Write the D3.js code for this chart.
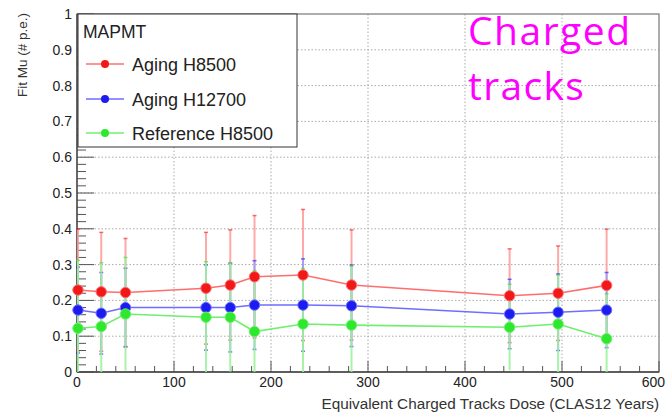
<!DOCTYPE html>
<html><head><meta charset="utf-8">
<script src="https://cdn.jsdelivr.net/npm/d3@7/dist/d3.min.js"></script>
<style>body{margin:0;background:#fff}svg{display:block}</style>
</head><body><svg id="c" width="666" height="414"></svg>
<script>
const dose = [1, 25, 50, 133, 158, 183, 233, 283, 446, 496, 546];
const agingH8500 = [0.229, 0.224, 0.222, 0.234, 0.243, 0.266, 0.271, 0.243, 0.213, 0.220, 0.242];
const agingH8500Err = [0.17, 0.166, 0.151, 0.156, 0.154, 0.171, 0.183, 0.154, 0.131, 0.132, 0.157];
const agingH12700 = [0.173, 0.164, 0.180, 0.180, 0.180, 0.187, 0.187, 0.185, 0.162, 0.167, 0.173];
const agingH12700Err = [0.12, 0.114, 0.110, 0.119, 0.124, 0.124, 0.129, 0.114, 0.097, 0.107, 0.105];
const refH8500 = [0.122, 0.127, 0.162, 0.153, 0.153, 0.113, 0.134, 0.131, 0.125, 0.134, 0.093];
const refH8500Err = [0.19, 0.178, 0.158, 0.155, 0.152, 0.17, 0.155, 0.165, 0.12, 0.137, 0.125];
const xTicks = [0, 100, 200, 300, 400, 500, 600];
const yTicks = [0, 0.1, 0.2, 0.3, 0.4, 0.5, 0.6, 0.7, 0.8, 0.9, 1];
const legendLabels = ["Aging H8500", "Aging H12700", "Reference H8500"];

const series = [
  {name: legendLabels[0], v: agingH8500, e: agingH8500Err, line: "#ff6e6e", err: "#ff9a9a", mk: "#f01818"},
  {name: legendLabels[1], v: agingH12700, e: agingH12700Err, line: "#6e6eff", err: "#9a9aff", mk: "#1c1cf0"},
  {name: legendLabels[2], v: refH8500, e: refH8500Err, line: "#6ef06e", err: "#9af29a", mk: "#2ee82e"}
];

const svg = d3.select("#c");
const L = 77, R = 659, T = 14, B = 372;
const x = d3.scaleLinear().domain([0, 600]).range([L, R]);
const y = d3.scaleLinear().domain([0, 1]).range([B, T]);
const font = "Liberation Sans, Arial, sans-serif";

// grid
const g = svg.append("g");
g.selectAll(".gx").data(xTicks.slice(1, -1)).join("line")
  .attr("x1", d => x(d)).attr("x2", d => x(d)).attr("y1", T).attr("y2", B)
  .attr("stroke", "#aaa").attr("stroke-width", 1).attr("stroke-dasharray", "1.5,2");
g.selectAll(".gy").data(yTicks.slice(1, -1)).join("line")
  .attr("y1", d => y(d)).attr("y2", d => y(d)).attr("x1", L).attr("x2", R)
  .attr("stroke", "#aaa").attr("stroke-width", 1).attr("stroke-dasharray", "1.5,2");

// frame
svg.append("rect").attr("x", L).attr("y", T).attr("width", R - L).attr("height", B - T)
  .attr("fill", "none").attr("stroke", "#777").attr("stroke-width", 1.2);

// ticks (inside, ROOT style)
const yMinor = d3.range(0, 1.0001, 0.02);
svg.append("g").selectAll("line").data(yMinor).join("line")
  .attr("x1", L).attr("x2", (d, i) => L + (i % 5 === 0 ? 17 : 9))
  .attr("y1", d => y(d)).attr("y2", d => y(d)).attr("stroke", "#555").attr("stroke-width", 1);
const xMinor = d3.range(0, 600.001, 20);
svg.append("g").selectAll("line").data(xMinor).join("line")
  .attr("y1", B).attr("y2", (d, i) => B - (i % 5 === 0 ? 11 : 6))
  .attr("x1", d => x(d)).attr("x2", d => x(d)).attr("stroke", "#555").attr("stroke-width", 1);

// axes lines
svg.append("line").attr("x1", L).attr("x2", L).attr("y1", T).attr("y2", B).attr("stroke", "#444").attr("stroke-width", 1.3);
svg.append("line").attr("x1", L).attr("x2", R).attr("y1", B).attr("y2", B).attr("stroke", "#444").attr("stroke-width", 1.3);

// tick labels
svg.append("g").selectAll("text").data(yTicks).join("text")
  .attr("x", L - 5).attr("y", d => y(d) + 5).attr("text-anchor", "end")
  .attr("font-family", font).attr("font-size", 14).attr("fill", "#222")
  .text(d => d === 0 ? "0" : d === 1 ? "1" : d3.format(".1f")(d));
svg.append("g").selectAll("text").data(xTicks).join("text")
  .attr("x", d => d === 600 ? 665 : x(d)).attr("y", 387)
  .attr("text-anchor", d => d === 600 ? "end" : "middle")
  .attr("font-family", font).attr("font-size", 14).attr("fill", "#222")
  .text(d => d);

// axis titles
svg.append("text").attr("x", R).attr("y", 409).attr("text-anchor", "end")
  .attr("font-family", font).attr("font-size", 15.3).attr("fill", "#333")
  .text("Equivalent Charged Tracks Dose (CLAS12 Years)");
svg.append("text").attr("transform", `translate(27,${T - 1}) rotate(-90)`).attr("text-anchor", "end")
  .attr("font-family", font).attr("font-size", 13.5).attr("fill", "#333")
  .text("Fit Mu (# p.e.)");

// data
const pg = svg.append("g");
series.forEach(s => {
  const gg = pg.append("g");
  gg.selectAll(".eb").data(dose).join("line")
    .attr("x1", d => x(d)).attr("x2", d => x(d))
    .attr("y1", (d, i) => y(Math.max(0, s.v[i] - s.e[i]))).attr("y2", (d, i) => y(s.v[i] + s.e[i]))
    .attr("stroke", s.err).attr("stroke-width", 2).attr("opacity", 0.85);
  gg.selectAll(".cu").data(dose).join("line")
    .attr("x1", d => x(d) - 2).attr("x2", d => x(d) + 2)
    .attr("y1", (d, i) => y(s.v[i] + s.e[i])).attr("y2", (d, i) => y(s.v[i] + s.e[i]))
    .attr("stroke", s.mk).attr("stroke-width", 1.5).attr("opacity", 0.6);
  gg.selectAll(".cl").data(dose).join("line").filter((d, i) => s.v[i] - s.e[i] > 0.01)
    .attr("x1", d => x(d) - 2).attr("x2", d => x(d) + 2)
    .attr("y1", (d, i) => y(s.v[i] - s.e[i])).attr("y2", (d, i) => y(s.v[i] - s.e[i]))
    .attr("stroke", s.mk).attr("stroke-width", 1.5).attr("opacity", 0.6);
});
series.forEach(s => {
  pg.append("path").datum(dose)
    .attr("d", d3.line().x(d => x(d)).y((d, i) => y(s.v[i])))
    .attr("fill", "none").attr("stroke", s.line).attr("stroke-width", 1.6);
});
series.forEach(s => {
  pg.append("g").selectAll("circle").data(dose).join("circle")
    .attr("cx", d => x(d)).attr("cy", (d, i) => y(s.v[i])).attr("r", 5.2)
    .attr("fill", s.mk).attr("stroke", s.line).attr("stroke-width", 1);
});

// legend
const lg = svg.append("g");
lg.append("rect").attr("x", 78).attr("y", 14).attr("width", 219).attr("height", 133)
  .attr("fill", "#fff").attr("stroke", "#333").attr("stroke-width", 1);
lg.append("text").attr("x", 83).attr("y", 37.5).attr("font-family", font).attr("font-size", 17.5)
  .attr("fill", "#222").text("MAPMT");
const ly = [64, 99, 133];
series.forEach((s, i) => {
  lg.append("line").attr("x1", 86).attr("x2", 124).attr("y1", ly[i]).attr("y2", ly[i])
    .attr("stroke", s.line).attr("stroke-width", 1.6);
  lg.append("circle").attr("cx", 105).attr("cy", ly[i]).attr("r", 4).attr("fill", s.mk);
  lg.append("text").attr("x", 132).attr("y", ly[i] + 6.5).attr("font-family", font)
    .attr("font-size", 18).attr("fill", "#222").text(s.name);
});

// annotation
svg.append("text").attr("x", 468).attr("y", 45).attr("font-family", "Open Sans, sans-serif")
  .attr("font-size", 39).attr("letter-spacing", 1.5).attr("fill", "#ff00ff").text("Charged");
svg.append("text").attr("x", 468).attr("y", 100).attr("font-family", "Open Sans, sans-serif")
  .attr("font-size", 39).attr("letter-spacing", 1.3).attr("fill", "#ff00ff").text("tracks");
</script></body></html>
